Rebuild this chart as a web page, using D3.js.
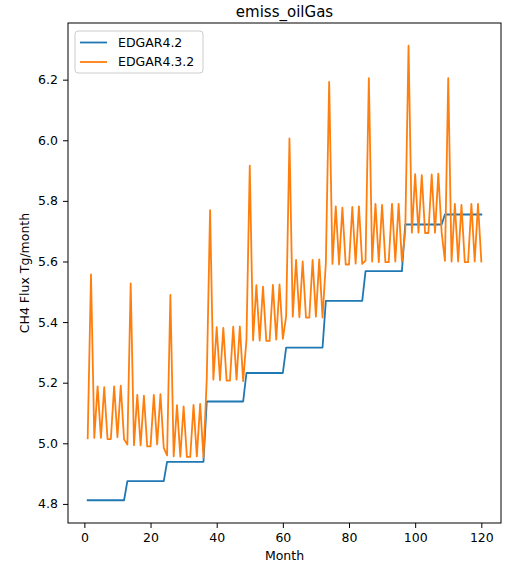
<!DOCTYPE html>
<html>
<head>
<meta charset="utf-8">
<script src="https://cdn.jsdelivr.net/npm/d3@7"></script>
<style>
  body { margin: 0; background: #fff; }
  text { font-family: "DejaVu Sans", sans-serif; fill: #000; }
</style>
</head>
<body>
<div id="chart"></div>
<script>
// ---- data ----
const chartTitle = "emiss_oilGas";
const xLabel = "Month";
const yLabel = "CH4 Flux Tg/month";
const seriesNames = ["EDGAR4.2", "EDGAR4.3.2"];
const seriesColors = ["#1f77b4", "#ff7f0e"];

const xTicks = [0, 20, 40, 60, 80, 100, 120];
const yTicks = [4.8, 5.0, 5.2, 5.4, 5.6, 5.8, 6.0, 6.2];

// EDGAR4.2: one value per month (constant within each year)
const edgar42 = [
  4.812, 4.812, 4.812, 4.812, 4.812, 4.812, 4.812, 4.812, 4.812, 4.812, 4.812, 4.812,
  4.875, 4.875, 4.875, 4.875, 4.875, 4.875, 4.875, 4.875, 4.875, 4.875, 4.875, 4.875,
  4.939, 4.939, 4.939, 4.939, 4.939, 4.939, 4.939, 4.939, 4.939, 4.939, 4.939, 4.939,
  5.138, 5.138, 5.138, 5.138, 5.138, 5.138, 5.138, 5.138, 5.138, 5.138, 5.138, 5.138,
  5.232, 5.232, 5.232, 5.232, 5.232, 5.232, 5.232, 5.232, 5.232, 5.232, 5.232, 5.232,
  5.316, 5.316, 5.316, 5.316, 5.316, 5.316, 5.316, 5.316, 5.316, 5.316, 5.316, 5.316,
  5.470, 5.470, 5.470, 5.470, 5.470, 5.470, 5.470, 5.470, 5.470, 5.470, 5.470, 5.470,
  5.568, 5.568, 5.568, 5.568, 5.568, 5.568, 5.568, 5.568, 5.568, 5.568, 5.568, 5.568,
  5.722, 5.722, 5.722, 5.722, 5.722, 5.722, 5.722, 5.722, 5.722, 5.722, 5.722, 5.722,
  5.755, 5.755, 5.755, 5.755, 5.755, 5.755, 5.755, 5.755, 5.755, 5.755, 5.755, 5.755
];

// EDGAR4.3.2: monthly values
const edgar432 = [
  5.016, 5.557, 5.018, 5.188, 5.018, 5.185, 5.014, 5.014, 5.188, 5.020, 5.190, 5.013,
  4.996, 5.528, 4.994, 5.160, 4.993, 5.157, 4.990, 4.990, 5.160, 4.996, 5.162, 4.985,
  4.960, 5.490, 4.957, 5.126, 4.956, 5.122, 4.955, 4.955, 5.127, 4.957, 5.130, 4.953,
  5.213, 5.769, 5.210, 5.383, 5.208, 5.381, 5.207, 5.207, 5.385, 5.210, 5.386, 5.205,
  5.342, 5.916, 5.340, 5.522, 5.339, 5.517, 5.338, 5.338, 5.523, 5.342, 5.524, 5.345,
  5.420, 6.006, 5.418, 5.605, 5.416, 5.600, 5.415, 5.415, 5.605, 5.418, 5.607, 5.415,
  5.595, 6.193, 5.592, 5.782, 5.590, 5.778, 5.590, 5.590, 5.780, 5.593, 5.782, 5.592,
  5.603, 6.205, 5.600, 5.790, 5.598, 5.787, 5.598, 5.598, 5.790, 5.600, 5.790, 5.600,
  5.697, 6.312, 5.695, 5.888, 5.695, 5.885, 5.694, 5.694, 5.887, 5.695, 5.890, 5.697,
  5.602, 6.205, 5.600, 5.790, 5.600, 5.787, 5.598, 5.598, 5.790, 5.600, 5.790, 5.600
];

// ---- layout ----
const width = 505, height = 565;
const margin = { top: 23, right: 4, bottom: 42, left: 68 };
const innerWidth = width - margin.left - margin.right;
const innerHeight = height - margin.top - margin.bottom;

const svg = d3.select("#chart").append("svg")
  .attr("width", width).attr("height", height);

const g = svg.append("g")
  .attr("transform", `translate(${margin.left}, ${margin.top})`);

const seriesData = [edgar42, edgar432].map((vals, i) => ({
  name: seriesNames[i],
  color: seriesColors[i],
  values: vals.map((v, j) => ({ x: j + 1, y: v }))
}));

// matplotlib-style 5% margins
const allX = seriesData.flatMap((s) => s.values.map((d) => d.x));
const allY = seriesData.flatMap((s) => s.values.map((d) => d.y));
const [x0, x1] = d3.extent(allX);
const [y0, y1] = d3.extent(allY);
const padX = (x1 - x0) * 0.05, padY = (y1 - y0) * 0.05;

const x = d3.scaleLinear().domain([x0 - padX, x1 + padX]).range([0, innerWidth]);
const y = d3.scaleLinear().domain([y0 - padY, y1 + padY]).range([innerHeight, 0]);

// axes
const xAxis = g.append("g")
  .attr("transform", `translate(0, ${innerHeight})`)
  .call(d3.axisBottom(x).tickValues(xTicks).tickFormat(d3.format("d")).tickSize(5).tickPadding(5));
const yAxis = g.append("g")
  .call(d3.axisLeft(y).tickValues(yTicks).tickFormat(d3.format(".1f")).tickSize(5).tickPadding(5));

[xAxis, yAxis].forEach((ax) => {
  ax.select(".domain").remove();
  ax.selectAll("text").style("font-size", "12.5px").attr("fill", "#000")
    .style("font-family", "'DejaVu Sans', sans-serif");
  ax.selectAll("line").attr("stroke", "#000").attr("stroke-width", 1);
});

// lines
const line = d3.line().x((d) => x(d.x)).y((d) => y(d.y));
g.selectAll(".series")
  .data(seriesData)
  .join("path")
  .attr("class", "series")
  .attr("fill", "none")
  .attr("stroke", (d) => d.color)
  .attr("stroke-width", 1.8)
  .attr("stroke-linejoin", "round")
  .attr("stroke-linecap", "square")
  .attr("d", (d) => line(d.values));

// frame
g.append("rect")
  .attr("width", innerWidth).attr("height", innerHeight)
  .attr("fill", "none").attr("stroke", "#000").attr("stroke-width", 1);

// title and axis labels
svg.append("text")
  .attr("x", margin.left + innerWidth / 2).attr("y", 17)
  .attr("text-anchor", "middle").style("font-size", "15px")
  .text(chartTitle);

svg.append("text")
  .attr("x", margin.left + innerWidth / 2).attr("y", 560)
  .attr("text-anchor", "middle").style("font-size", "12.5px")
  .text(xLabel);

svg.append("text")
  .attr("transform", `translate(29, ${margin.top + innerHeight / 2}) rotate(-90)`)
  .attr("text-anchor", "middle").style("font-size", "12.5px")
  .text(yLabel);

// legend
const legend = g.append("g").attr("transform", "translate(7, 8)");
legend.append("rect")
  .attr("width", 128).attr("height", 42).attr("rx", 3)
  .attr("fill", "#fff").attr("fill-opacity", 0.8)
  .attr("stroke", "#ccc").attr("stroke-width", 1);
seriesData.forEach((s, i) => {
  const ly = 11.5 + i * 19.5;
  legend.append("line")
    .attr("x1", 5).attr("x2", 32).attr("y1", ly).attr("y2", ly)
    .attr("stroke", s.color).attr("stroke-width", 1.8);
  legend.append("text")
    .attr("x", 43).attr("y", ly).attr("dy", "0.35em")
    .style("font-size", "12.5px")
    .text(s.name);
});
</script>
</body>
</html>
